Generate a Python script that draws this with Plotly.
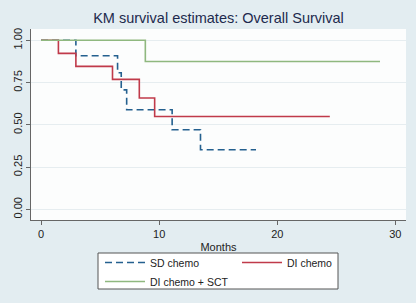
import plotly.graph_objects as go

# Kaplan-Meier step data (months, survival probability)
sd_time = [0, 2.95, 6.48, 6.79, 7.25, 11.1, 13.5, 18.2]
sd_surv = [1.0, 0.909, 0.808, 0.707, 0.589, 0.471, 0.353, 0.353]

di_time = [0, 1.47, 2.95, 6.05, 8.32, 9.62, 24.45]
di_surv = [1.0, 0.923, 0.846, 0.769, 0.659, 0.549, 0.549]

sct_time = [0, 8.83, 28.7]
sct_surv = [1.0, 0.875, 0.875]

series_names = ["SD chemo", "DI chemo", "DI chemo + SCT"]
y_ticks = [0, 0.25, 0.5, 0.75, 1.0]
y_tick_labels = ["0.00", "0.25", "0.50", "0.75", "1.00"]
x_ticks = [0, 10, 20, 30]

W, H = 416, 303
ML, MR, MT, MB = 31, 10, 29, 83
PW, PH = W - ML - MR, H - MT - MB

fig = go.Figure()
fig.add_trace(go.Scatter(x=sd_time, y=sd_surv, mode="lines", line_shape="hv",
                         name=series_names[0],
                         line=dict(color="#24608f", width=1.6, dash="7px,4px")))
fig.add_trace(go.Scatter(x=di_time, y=di_surv, mode="lines", line_shape="hv",
                         name=series_names[1],
                         line=dict(color="#c03a4a", width=1.6)))
fig.add_trace(go.Scatter(x=sct_time, y=sct_surv, mode="lines", line_shape="hv",
                         name=series_names[2],
                         line=dict(color="#8fb87f", width=1.6)))


def px_x(p):
    return (p - ML) / PW


def px_y(p):
    return (H - MB - p) / PH


# legend frame (pixel box 98..338 x 253..289)
fig.add_shape(type="rect", xref="paper", yref="paper",
              x0=px_x(98), x1=px_x(338), y0=px_y(289), y1=px_y(253),
              line=dict(color="#555555", width=1), fillcolor="#ffffff",
              layer="below")

font_family = "Liberation Sans, Arial, sans-serif"
fig.update_layout(
    width=W, height=H,
    margin=dict(l=ML, r=MR, t=MT, b=MB, autoexpand=False),
    paper_bgcolor="#e3edf1",
    plot_bgcolor="#fcfdfd",
    font=dict(family=font_family, size=11, color="#222222"),
    title=dict(text="KM survival estimates: Overall Survival",
               x=0.5, xref="paper", xanchor="center", y=1 - 18 / H, yanchor="middle",
               font=dict(size=14.5, color="#1d2a4d")),
    showlegend=True,
    legend=dict(orientation="h", x=px_x(100), xanchor="left",
                y=px_y(248), yanchor="top",
                bgcolor="rgba(0,0,0,0)", borderwidth=0,
                entrywidth=82, entrywidthmode="pixels", itemwidth=40,
                traceorder="normal",
                font=dict(size=10.5, color="#222222"), tracegroupgap=0),
    xaxis=dict(range=[-0.85, 30.9], tickmode="array", tickvals=x_ticks,
               showgrid=False, zeroline=False, showline=True, linecolor="#666666",
               linewidth=1, ticks="outside", ticklen=4, tickcolor="#666666",
               title=dict(text="Months", standoff=4, font=dict(size=11))),
    yaxis=dict(range=[-0.063, 1.067], tickmode="array", tickvals=y_ticks,
               ticktext=y_tick_labels, tickangle=-90,
               showgrid=True, gridcolor="#e6edf0", gridwidth=1,
               zeroline=False, showline=True, linecolor="#666666", linewidth=1,
               ticks="outside", ticklen=4, tickcolor="#666666"),
)

fig.write_html("out.html", config={"displayModeBar": False},
               post_script="document.body.style.margin='0';document.body.style.overflow='hidden';")
